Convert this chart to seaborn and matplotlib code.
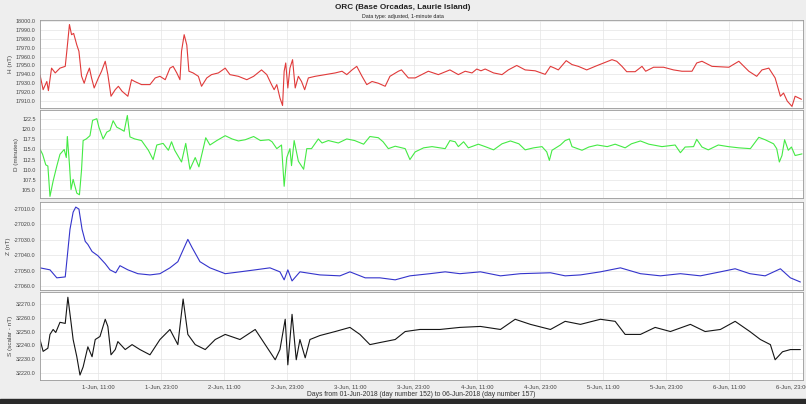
import numpy as np
import pandas as pd
import matplotlib
matplotlib.use("Agg")
import matplotlib.pyplot as plt
import seaborn as sns

# hours since 01-Jun-2018 00:00 and values
h_hours = [0, 0.6, 1.3, 1.6, 2.2, 2.9, 3.8, 4.8, 5.1, 5.6, 6.0, 6.4, 7.0, 7.4, 7.9, 8.4,
           8.9, 9.4, 9.8, 10.3, 11.1, 11.7, 12.4, 12.9, 13.5, 14.3, 14.9, 15.6, 16.7,
           17.4, 18.0, 19.3, 20.9, 21.9, 22.8, 23.8, 24.7, 25.3, 26.0, 26.6, 26.9, 27.4,
           27.9, 28.3, 29.1, 30.1, 30.7, 31.7, 32.6, 33.9, 35.2, 36.1, 37.7, 39.3, 40.6,
           42.1, 43.1, 44.0, 44.5, 45.0, 45.6, 46.1, 46.4, 46.7, 47.1, 47.5, 48.0, 48.5,
           49.1, 49.7, 50.3, 51.0, 52.3, 54.2, 56.1, 57.4, 58.3, 59.3, 60.2, 61.2, 62.1,
           63.1, 64.3, 65.6, 66.5, 68.1, 68.7, 70.0, 71.3, 73.8, 75.7, 77.9, 79.5, 80.8,
           82.1, 83.0, 83.8, 84.6, 86.2, 87.8, 89.0, 90.6, 92.2, 94.1, 96.0, 97.0, 97.8,
           98.5, 100.0, 101.1, 102.3, 103.9, 105.5, 107.1, 108.7, 109.6, 110.6, 111.5,
           113.1, 114.4, 115.1, 116.6, 118.5, 120.4, 122.0, 123.9, 124.8, 125.8, 127.7,
           130.9, 132.8, 134.7, 136.2, 137.2, 138.5, 139.7, 140.7, 141.3, 142.0, 142.9,
           143.5, 144.7]
h_values = [17939.6, 17922.8, 17932.0, 17921.7, 17947.0, 17941.6, 17947.0, 17949.0,
            17966.0, 17996.0, 17984.6, 17986.0, 17973.0, 17966.0, 17938.0, 17930.0,
            17939.7, 17947.0, 17936.0, 17924.7, 17936.0, 17943.5, 17954.7, 17939.7,
            17915.4, 17922.8, 17926.6, 17921.0, 17915.4, 17934.0, 17932.0, 17928.5,
            17928.5, 17936.0, 17937.8, 17934.0, 17947.0, 17949.0, 17941.6, 17934.0,
            17966.0, 17984.6, 17973.0, 17943.5, 17941.6, 17937.8, 17926.6, 17936.0,
            17939.7, 17941.6, 17947.0, 17939.7, 17937.8, 17934.0, 17937.8, 17945.0,
            17939.7, 17928.5, 17922.8, 17928.5, 17913.5, 17905.0, 17943.5, 17952.8,
            17924.7, 17947.0, 17956.5, 17924.7, 17937.8, 17932.0, 17922.8, 17936.0,
            17937.8, 17939.7, 17941.6, 17943.5, 17939.7, 17945.0, 17949.0, 17937.8,
            17928.5, 17932.0, 17930.0, 17926.6, 17937.8, 17943.5, 17945.0, 17936.0,
            17936.0, 17943.5, 17939.7, 17945.0, 17939.7, 17943.5, 17941.6, 17946.0,
            17944.0, 17946.0, 17941.6, 17939.7, 17945.0, 17950.0, 17945.0, 17944.0,
            17940.0, 17949.0, 17947.0, 17945.0, 17955.4, 17951.0, 17949.0, 17945.0,
            17949.0, 17952.8, 17956.5, 17954.7, 17949.0, 17943.0, 17943.0, 17949.0,
            17943.5, 17948.0, 17948.0, 17945.0, 17943.5, 17943.5, 17952.8, 17954.7,
            17949.0, 17948.0, 17954.7, 17943.5, 17937.8, 17945.0, 17947.0, 17936.0,
            17915.4, 17919.0, 17910.0, 17904.0, 17915.4, 17912.0]

d_hours = [0, 0.5, 1.1, 1.5, 1.9, 2.5, 3.2, 3.8, 4.6, 5.0, 5.2, 5.6, 5.9, 6.3, 7.0, 7.5,
           7.9, 8.2, 8.8, 9.5, 10.0, 10.8, 11.2, 12.0, 12.7, 13.3, 13.9, 14.6, 15.2,
           16.0, 16.6, 17.1, 18.0, 19.3, 20.6, 21.5, 22.2, 23.4, 24.4, 25.0, 25.6, 26.9,
           27.7, 28.5, 29.5, 30.2, 31.5, 32.3, 33.6, 35.2, 36.5, 37.7, 39.0, 40.6, 41.9,
           43.5, 44.1, 45.0, 45.9, 46.4, 46.9, 47.5, 47.8, 48.3, 49.1, 50.1, 50.7, 51.6,
           52.9, 53.6, 54.8, 56.7, 58.3, 59.8, 61.5, 62.7, 64.3, 65.2, 66.2, 67.5, 69.4,
           70.3, 71.3, 72.9, 74.5, 77.0, 77.9, 78.9, 79.5, 80.5, 81.4, 83.3, 84.6, 86.2,
           87.8, 89.4, 91.0, 92.2, 93.8, 95.4, 96.3, 96.8, 97.3, 98.9, 99.8, 100.6, 101.1,
           103.0, 104.3, 105.9, 107.8, 109.3, 111.2, 112.4, 114.1, 115.7, 118.2, 120.7,
           121.7, 122.6, 124.2, 124.8, 125.8, 127.0, 128.9, 130.8, 132.8, 135.0, 136.6,
           137.8, 139.4, 140.0, 140.5, 141.0, 141.5, 142.2, 142.8, 143.5, 144.8]
d_values = [115.1, 113.8, 111.2, 110.9, 103.4, 107.2, 110.9, 113.8, 115.0, 113.0, 118.2,
            111.3, 105.1, 107.6, 104.2, 103.8, 110.0, 117.2, 117.6, 118.4, 122.2, 122.6,
            120.5, 117.6, 119.3, 119.7, 122.1, 120.5, 120.1, 119.5, 123.4, 118.1, 117.6,
            117.2, 114.8, 112.5, 116.1, 116.5, 114.8, 116.9, 114.8, 111.9, 116.5, 110.1,
            113.0, 110.7, 117.9, 116.1, 117.2, 118.4, 117.6, 117.1, 117.4, 118.2, 117.2,
            117.4, 116.9, 115.2, 116.1, 105.9, 113.0, 115.2, 111.0, 117.2, 112.1, 110.1,
            115.2, 115.2, 117.6, 116.6, 117.2, 116.6, 117.6, 117.2, 116.3, 118.2, 117.9,
            116.9, 115.2, 115.8, 115.2, 112.5, 114.4, 115.4, 115.7, 115.2, 117.2, 116.9,
            115.7, 116.9, 115.4, 116.3, 115.7, 114.9, 116.4, 117.1, 116.4, 114.9, 115.4,
            115.7, 114.4, 112.3, 114.8, 116.1, 117.2, 117.6, 115.7, 114.8, 115.6, 116.1,
            115.7, 116.3, 115.4, 116.4, 117.1, 116.3, 115.7, 116.1, 114.2, 115.6, 115.7,
            117.5, 115.6, 114.9, 116.1, 115.7, 115.4, 115.2, 118.0, 117.4, 116.4, 115.2,
            111.9, 113.5, 117.4, 114.8, 115.6, 113.5, 113.9]

z_hours = [0, 1.9, 3.2, 4.8, 5.7, 6.3, 6.8, 7.4, 8.0, 8.6, 9.1, 9.9, 11.0, 12.4, 13.3,
           14.4, 15.2, 16.7, 18.6, 20.9, 22.8, 24.7, 26.2, 27.4, 28.1, 28.9, 30.4, 32.3,
           35.2, 38.0, 40.9, 43.7, 45.6, 46.4, 47.1, 47.9, 49.4, 53.2, 57.0, 58.9, 61.8,
           64.6, 67.5, 70.3, 74.1, 77.0, 79.8, 83.7, 87.5, 91.3, 97.0, 99.8, 102.7, 106.5,
           110.3, 114.1, 117.9, 121.7, 125.5, 129.3, 132.1, 134.9, 137.8, 140.7, 142.6,
           144.5]
z_values = [-27048.2, -27049.5, -27054.7, -27054.1, -27023.2, -27012.0, -27008.7,
            -27010.0, -27023.2, -27031.0, -27033.0, -27037.6, -27040.3, -27045.5,
            -27049.5, -27051.4, -27046.8, -27049.5, -27052.0, -27052.8, -27052.0,
            -27048.2, -27044.2, -27035.0, -27029.7, -27035.0, -27044.2, -27048.2,
            -27052.0, -27050.8, -27049.5, -27048.2, -27050.8, -27056.0, -27049.5,
            -27056.7, -27050.8, -27052.8, -27053.4, -27050.8, -27054.7, -27054.7,
            -27056.0, -27053.4, -27052.0, -27050.8, -27052.0, -27050.8, -27053.4,
            -27052.0, -27051.4, -27053.4, -27052.8, -27050.8, -27048.2, -27052.0,
            -27053.4, -27052.0, -27053.4, -27050.8, -27048.8, -27052.0, -27053.4,
            -27048.8, -27054.7, -27057.4]

s_hours = [0, 0.6, 1.5, 1.9, 2.5, 3.0, 3.8, 4.8, 5.3, 5.9, 6.3, 7.0, 7.6, 8.2, 9.1, 9.9,
           10.5, 11.4, 12.4, 12.9, 13.5, 14.3, 14.8, 16.2, 17.5, 19.0, 20.9, 22.8, 24.7,
           26.2, 27.2, 28.1, 29.5, 31.4, 33.3, 35.2, 38.0, 40.9, 42.8, 44.7, 45.6, 46.6,
           47.1, 47.9, 48.7, 49.4, 50.4, 51.3, 53.2, 56.1, 58.9, 60.8, 62.7, 64.6, 67.5,
           69.4, 72.2, 76.0, 79.8, 83.7, 87.5, 90.3, 93.2, 97.0, 99.8, 102.7, 106.5,
           109.3, 111.2, 114.1, 116.9, 119.8, 123.6, 126.4, 129.3, 132.1, 134.9, 136.9,
           138.8, 139.7, 141.1, 142.6, 144.5]
s_values = [32244.3, 32235.7, 32238.0, 32248.0, 32251.6, 32249.4, 32256.8, 32256.0,
            32275.0, 32256.8, 32244.3, 32231.8, 32218.5, 32224.4, 32239.0, 32231.8,
            32244.3, 32246.5, 32259.0, 32253.8, 32233.2, 32237.0, 32242.8, 32237.0,
            32240.6, 32237.0, 32233.2, 32244.3, 32251.6, 32240.6, 32273.7, 32248.0,
            32240.6, 32237.0, 32244.3, 32248.0, 32244.3, 32251.6, 32240.6, 32229.6,
            32237.0, 32259.0, 32225.9, 32262.6, 32229.6, 32244.3, 32231.0, 32244.3,
            32247.2, 32250.1, 32253.1, 32248.0, 32240.6, 32242.1, 32244.3, 32250.1,
            32251.6, 32251.6, 32253.1, 32253.8, 32251.6, 32259.0, 32255.3, 32251.6,
            32257.5, 32255.3, 32259.0, 32257.5, 32248.0, 32248.0, 32253.1, 32250.1,
            32255.3, 32250.1, 32251.6, 32257.5, 32250.1, 32244.3, 32240.6, 32229.6,
            32235.4, 32237.0, 32237.0]

tick_hours = [11, 23, 35, 47, 59, 71, 83, 95, 107, 119, 131, 143]
tick_labels = ["1-Jun, 11:00", "1-Jun, 23:00", "2-Jun, 11:00", "2-Jun, 23:00",
               "3-Jun, 11:00", "3-Jun, 23:00", "4-Jun, 11:00", "4-Jun, 23:00",
               "5-Jun, 11:00", "5-Jun, 23:00", "6-Jun, 11:00", "6-Jun, 23:00"]

panels = [
    ("H (nT)", h_hours, h_values, "#e03a3a", (17902.2, 18001.1), np.arange(17910, 18001, 10)),
    ("D (minutes)", d_hours, d_values, "#44ea44", (103.0, 124.75), np.arange(105, 123, 2.5)),
    ("Z (nT)", z_hours, z_values, "#3434cc", (-27062.6, -27005.4), np.arange(-27060, -27009, 10)),
    ("S (scalar - nT)", s_hours, s_values, "#151515", (32214.9, 32278.8), np.arange(32220, 32271, 10)),
]

sns.set_style("whitegrid")
plt.rcParams["font.family"] = ["Liberation Sans", "DejaVu Sans"]

fig = plt.figure(figsize=(8.06, 4.04), dpi=100, facecolor="#eeeeee")
bottoms = [0.7327, 0.5099, 0.2822, 0.0594]
height = 0.2178

for i, (label, hrs, vals, color, ylim, yticks) in enumerate(panels):
    ax = fig.add_axes([0.0496, bottoms[i], 0.9467, height])
    df = pd.DataFrame({"hours": hrs, "value": vals})
    sns.lineplot(data=df, x="hours", y="value", ax=ax, color=color, linewidth=0.8)
    ax.set_xlim(0, 145)
    ax.set_ylim(*ylim)
    ax.set_yticks(yticks)
    ax.set_yticklabels([f"{t:.1f}" for t in yticks], fontsize=3.9, color="#444444")
    ax.set_xticks(tick_hours)
    if i == 3:
        ax.set_xticklabels(tick_labels, fontsize=4.2, color="#444444")
        ax.set_xlabel("Days from 01-Jun-2018 (day number 152) to 06-Jun-2018 (day number 157)",
                      fontsize=4.9, color="#333333", labelpad=1)
    else:
        ax.set_xticklabels([])
        ax.set_xlabel("")
    ax.set_ylabel(label, fontsize=4.6, color="#444444", labelpad=2)
    ax.tick_params(axis="both", length=2, width=0.4, pad=1, color="#888888")
    ax.grid(True, color="#e4e4e4", linewidth=0.5)
    for sp in ax.spines.values():
        sp.set_color("#999999")
        sp.set_linewidth(0.6)

fig.text(0.5, 0.99, "ORC (Base Orcadas, Laurie Island)", ha="center", va="top",
         fontsize=5.9, fontweight="bold", color="#222222")
fig.text(0.5, 0.965, "Data type: adjusted, 1-minute data", ha="center", va="top",
         fontsize=3.8, color="#222222")

fig.patches.append(plt.Rectangle((0, 0), 1, 0.012, transform=fig.transFigure,
                                 color="#2a2a2a", zorder=0))

fig.savefig("out.png", dpi=100, facecolor=fig.get_facecolor())
